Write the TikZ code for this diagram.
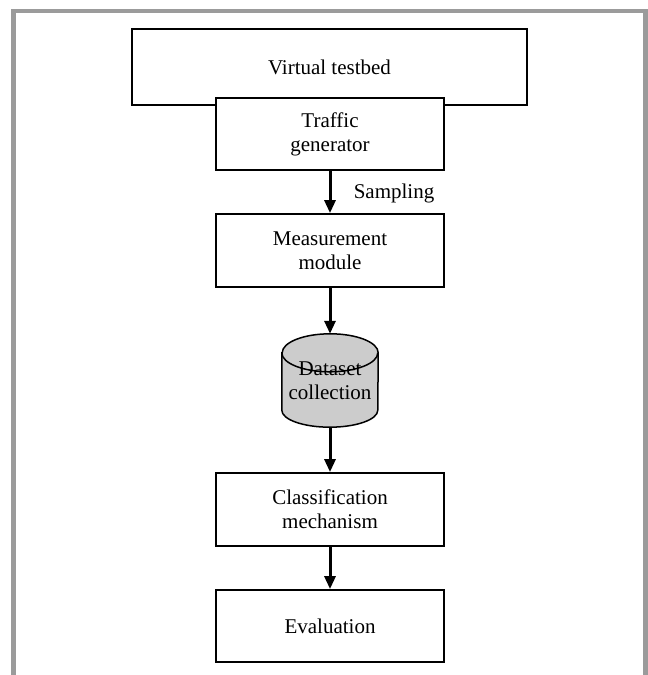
\documentclass[tikz,border=0pt]{standalone}
\usepackage{fontspec}
\setmainfont{Liberation Serif}
\usetikzlibrary{arrows.meta,backgrounds}
\definecolor{framegray}{HTML}{9B9B9B}
\definecolor{cylgray}{HTML}{CCCCCC}
\begin{document}
\begin{tikzpicture}[x=1pt,y=1pt,
  box/.style={draw=black,line width=1.8pt,fill=white,rectangle,inner sep=0pt,
    minimum width=228pt,minimum height=73pt,align=center,
    font=\fontsize{21}{24}\selectfont},
  flow/.style={line width=3pt,-{Triangle[length=13pt,width=11pt]}},
  lbl/.style={inner sep=0pt,font=\fontsize{21}{24}\selectfont}]
\useasboundingbox (0,0) rectangle (648,675);
% frame
\draw[framegray,line width=4.6pt,line join=miter] (13.5,-5) -- (13.5,664) -- (645.5,664) -- (645.5,-5);
% nodes
\node[box,minimum width=395pt,minimum height=76pt] (vt) at (329.5,608) {Virtual testbed};
\node[box,minimum height=72pt] (tg) at (330,541) {Traffic\\generator};
\node[box] (mm) at (330,424.5) {Measurement\\module};
\node[lbl,minimum width=96pt,minimum height=93pt,align=center] (ds) at (330,294.5) {Dataset\\collection};
\node[box] (cm) at (330,165.5) {Classification\\mechanism};
\node[box,minimum height=72pt] (ev) at (330,49) {Evaluation};
\node[lbl] (samp) at (394,482) {Sampling};
% cylinder
\begin{scope}[on background layer]
  \path[fill=cylgray,draw=black,line width=1.5pt]
    ([yshift=-19pt]ds.north west) -- ([yshift=17pt]ds.south west)
    arc[start angle=180,end angle=360,x radius=48pt,y radius=17pt]
    -- ([yshift=-19pt]ds.north east)
    arc[start angle=0,end angle=180,x radius=48pt,y radius=19pt] -- cycle;
  \draw[line width=1.5pt] ([yshift=-19pt]ds.north west)
    arc[start angle=180,end angle=360,x radius=48pt,y radius=19pt];
\end{scope}
% connectors
\draw[flow] (tg.south) -- (mm.north);
\draw[flow] (mm.south) -- (ds.north);
\draw[flow] (ds.south) -- (cm.north);
\draw[flow] (cm.south) -- (ev.north);
\end{tikzpicture}
\end{document}
